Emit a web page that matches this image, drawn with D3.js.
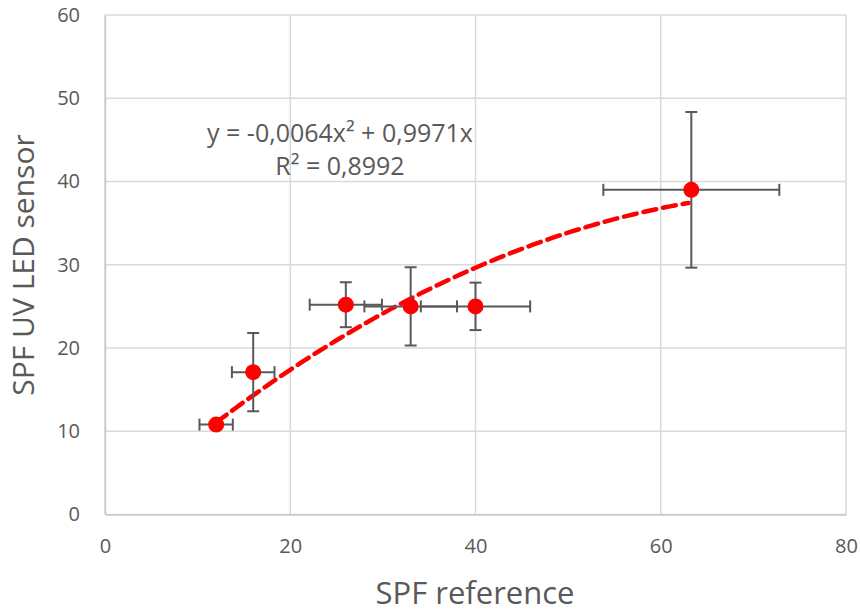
<!DOCTYPE html>
<html><head><meta charset="utf-8">
<script src="https://cdn.jsdelivr.net/npm/d3@7"></script>
<style>body{margin:0;background:#fff}text{font-family:"Open Sans",sans-serif;fill:#595959}</style>
</head><body><svg id="c" width="860" height="612"></svg>
<script>
const spfRef   = [12, 16, 26, 33, 40, 63.3];
const spfUV    = [10.8, 17.1, 25.2, 25.0, 25.0, 39.0];
const xErr     = [1.8, 2.3, 3.9, 5.0, 5.9, 9.5];
const yErr     = [0, 4.7, 2.7, 4.7, 2.85, 9.35];
const xTicks   = [0, 20, 40, 60, 80];
const yTicks   = [0, 10, 20, 30, 40, 50, 60];
const coefA = -0.0064, coefB = 0.9971;
const eqLines = ["y = -0,0064x² + 0,9971x", "R² = 0,8992"];

const svg = d3.select("#c");
const x = d3.scaleLinear().domain([0, 80]).range([105, 846]);
const y = d3.scaleLinear().domain([0, 60]).range([514.5, 15]);

// grid
svg.append("g").selectAll("line").data(xTicks).join("line")
  .attr("x1", d => x(d)).attr("x2", d => x(d)).attr("y1", y(0)).attr("y2", y(60))
  .attr("stroke", "#d9d9d9").attr("stroke-width", 1.5);
svg.append("g").selectAll("line").data(yTicks).join("line")
  .attr("y1", d => y(d)).attr("y2", d => y(d)).attr("x1", x(0)).attr("x2", x(80))
  .attr("stroke", "#d9d9d9").attr("stroke-width", 1.5);

// axes
const xAxis = svg.append("g").attr("transform", `translate(0,${y(0)})`)
  .call(d3.axisBottom(x).tickValues(xTicks).tickSize(0).tickPadding(24));
const yAxis = svg.append("g").attr("transform", `translate(${x(0)},0)`)
  .call(d3.axisLeft(y).tickValues(yTicks).tickSize(0).tickPadding(25));
[xAxis, yAxis].forEach(a => { a.select(".domain").attr("stroke", "#c8c8c8").attr("stroke-width", 1.5);
  a.selectAll("text").style("font-size", "20px").attr("fill", "#595959"); });

// trendline
const tx = d3.range(12, 63.31, 0.5);
const line = d3.line().x(d => x(d)).y(d => y(coefA * d * d + coefB * d));
svg.append("path").datum(tx).attr("d", line).attr("fill", "none")
  .attr("stroke", "#ff0000").attr("stroke-width", 4.5).attr("stroke-dasharray", "13,7")
  .attr("stroke-linecap", "round");

// error bars
const data = spfRef.map((v, i) => ({x: v, y: spfUV[i], ex: xErr[i], ey: yErr[i]}));
const eb = svg.append("g").attr("stroke", "#595959").attr("stroke-width", 2);
data.forEach(d => {
  eb.append("line").attr("x1", x(d.x - d.ex)).attr("x2", x(d.x + d.ex)).attr("y1", y(d.y)).attr("y2", y(d.y));
  [d.x - d.ex, d.x + d.ex].forEach(v => eb.append("line").attr("x1", x(v)).attr("x2", x(v)).attr("y1", y(d.y) - 6).attr("y2", y(d.y) + 6));
  if (d.ey > 0) {
    eb.append("line").attr("y1", y(d.y - d.ey)).attr("y2", y(d.y + d.ey)).attr("x1", x(d.x)).attr("x2", x(d.x));
    [d.y - d.ey, d.y + d.ey].forEach(v => eb.append("line").attr("y1", y(v)).attr("y2", y(v)).attr("x1", x(d.x) - 6).attr("x2", x(d.x) + 6));
  }
});

// points
svg.append("g").selectAll("circle").data(data).join("circle")
  .attr("cx", d => x(d.x)).attr("cy", d => y(d.y)).attr("r", 8).attr("fill", "#ff0000");

// equation
svg.append("g").selectAll("text").data(eqLines).join("text")
  .attr("x", 340).attr("y", (d, i) => 142 + i * 33).attr("text-anchor", "middle")
  .style("font-size", "25px").text(d => d);

// titles
svg.append("text").attr("x", 475).attr("y", 604).attr("text-anchor", "middle")
  .style("font-size", "31px").text("SPF reference");
svg.append("text").attr("transform", "translate(34,265) rotate(-90)").attr("text-anchor", "middle")
  .style("font-size", "30px").text("SPF UV LED sensor");
</script></body></html>
